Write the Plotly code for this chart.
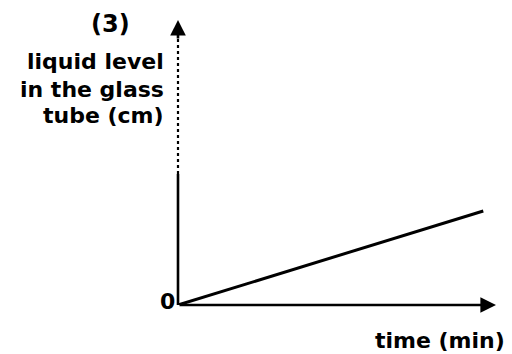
import plotly.graph_objects as go

# liquid level rises steadily with time
time_min = [0, 9.6]
level_cm = [0, 3.3]

x_label = "time (min)"
y_label = ["liquid level", "in the glass", "tube (cm)"]
panel = "(3)"

# the page keeps an 8px body margin, so the figure is drawn 8px smaller
OFF = 8
W, H = 512 - OFF, 354 - OFF
X0, X1 = 178, 496          # pixel positions of x = 0 and x = 10
XPAD = 0.3                 # keep the y axis off the clip edge

fig = go.Figure()
fig.add_trace(go.Scatter(x=time_min, y=level_cm, mode="lines",
                         line=dict(color="black", width=3), showlegend=False))

# axes: x axis solid with arrow, y axis solid at the bottom and broken near the top
fig.add_annotation(x=10, y=0, ax=0, ay=0, xref="x", yref="y", axref="x", ayref="y",
                   showarrow=True, arrowhead=2, arrowsize=1.2, arrowwidth=2.6,
                   arrowcolor="black", text="")
fig.add_shape(type="line", x0=0, y0=0, x1=0, y1=4.6, xref="x", yref="y",
              line=dict(color="black", width=2.6))
fig.add_shape(type="line", x0=0, y0=4.6, x1=0, y1=9.4, xref="x", yref="y",
              line=dict(color="black", width=2.2, dash="dot"))
fig.add_annotation(x=0, y=10, ax=0, ay=9.3, xref="x", yref="y", axref="x", ayref="y",
                   showarrow=True, arrowhead=2, arrowsize=1.2, arrowwidth=2.6,
                   arrowcolor="black", text="")

fnt = dict(family="DejaVu Sans", size=22, color="black", weight="bold")


def px(x, y, text, anchor="center", size=22):
    fig.add_annotation(x=(x - OFF) / W, y=1 - (y - OFF) / H, xref="paper", yref="paper",
                       text=text, showarrow=False, xanchor=anchor, yanchor="middle",
                       font=dict(fnt, size=size))


fig.add_annotation(x=0, y=0, xref="x", yref="y", text="0", showarrow=False,
                   xanchor="right", yanchor="middle", xshift=-1, yshift=4, font=fnt)
px(110, 24, panel, size=24)
for i, t in enumerate(y_label):
    px(166, 62 + i * 27, t, "right")
px(507, 340, x_label, "right")

left = X0 - XPAD * (X1 - X0) / 10
fig.update_layout(
    width=W, height=H,
    margin=dict(l=0, r=0, t=0, b=0),
    paper_bgcolor="white", plot_bgcolor="white",
    xaxis=dict(range=[-XPAD, 10], domain=[(left - OFF) / W, (X1 - OFF) / W], visible=False),
    yaxis=dict(range=[0, 10], domain=[(354 - 305) / H, (354 - 20) / H], visible=False),
)

fig.write_html("out.html")
